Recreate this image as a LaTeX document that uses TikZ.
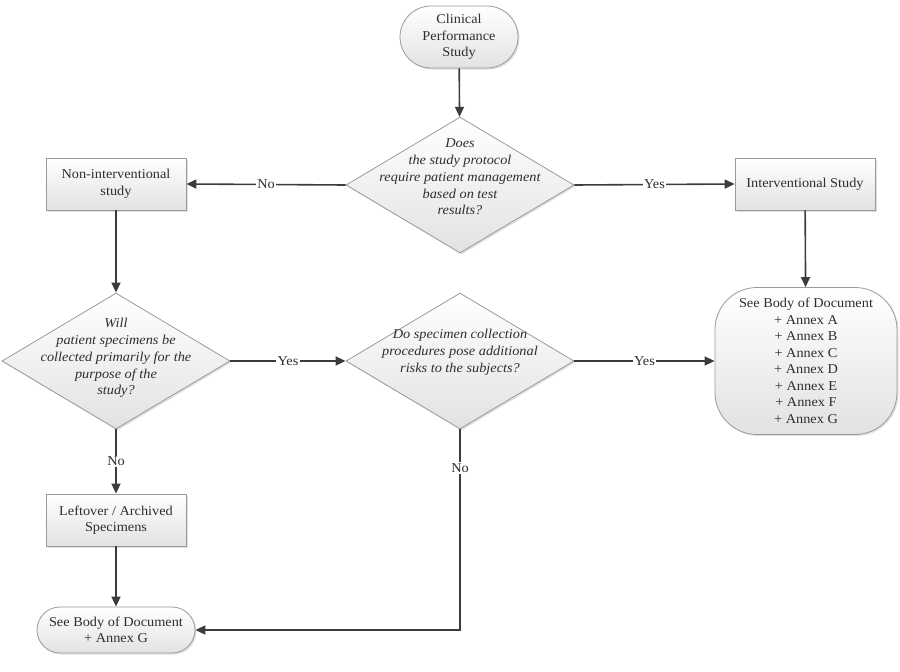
\documentclass[tikz,border=0pt]{standalone}
\usepackage{fontspec}
\setmainfont[FakeStretch=1.06]{Liberation Serif}
\usetikzlibrary{shapes.geometric,shapes.misc,arrows.meta,shadows}
\definecolor{bordergray}{HTML}{9A9A9A}
\definecolor{linegray}{HTML}{3C3C3C}
\definecolor{textgray}{HTML}{2E2E2E}
\definecolor{fillbot}{HTML}{E2E2E2}
\begin{document}
\begin{tikzpicture}[x=1pt,y=-1pt,
  base/.style={draw=bordergray, line width=0.8pt, top color=white, bottom color=fillbot,
    text=textgray, font=\fontsize{13.5}{16.5}\selectfont, align=center,
    drop shadow={opacity=0.25, shadow xshift=1.5pt, shadow yshift=-1.5pt}},
  term/.style={base, rounded rectangle, inner sep=2pt},
  procbox/.style={base, rectangle, minimum width=140pt, minimum height=52pt, inner sep=2pt},
  dia/.style={base, diamond, minimum width=228pt, minimum height=136pt, inner sep=0pt},
  dtext/.style={text=textgray, font=\fontsize{13.5}{16.8}\selectfont\itshape, align=center, inner sep=0pt},
  bigbox/.style={base, rectangle, rounded corners=42pt, minimum width=182pt, minimum height=147pt, inner sep=0pt},
  arr/.style={draw=linegray, line width=1.6pt, -{Triangle[length=10pt,width=9pt]}},
  lbl/.style={fill=white, text=textgray, inner sep=1.5pt, font=\fontsize{13.5}{15}\selectfont}
]
\useasboundingbox (0,0) rectangle (900,672);

\node[term, minimum width=122pt, minimum height=62pt] (start) at (459,37) {Clinical\\Performance\\Study};
\node[dia] (d1) at (460,185) {};
\node[dtext] (d1t) at (460,177) {Does\\the study protocol\\require patient management\\based on test\\results?};
\node[procbox] (noninv) at (116,184) {Non-interventional\\study};
\node[procbox] (inter) at (805,184) {Interventional Study};
\node[dia] (d2) at (116,361) {};
\node[dtext] (d2t) at (116,358) {Will\\patient specimens be\\collected primarily for the\\purpose of the\\study?};
\node[dia] (d3) at (460,361) {};
\node[dtext] (d3t) at (460,352) {Do specimen collection\\procedures pose additional\\risks to the subjects?};
\node[bigbox] (annex) at (806,361) {See Body of Document\\+ Annex A\\+ Annex B\\+ Annex C\\+ Annex D\\+ Annex E\\+ Annex F\\+ Annex G};
\node[procbox] (leftover) at (116,520) {Leftover / Archived\\Specimens};
\node[term, minimum width=162pt, minimum height=46pt] (final) at (116,630) {See Body of Document\\+ Annex G};

\draw[arr] (start) -- (d1);
\draw[arr] (d1.west) -- node[lbl] {No} (noninv.east);
\draw[arr] (d1.east) -- node[lbl] {Yes} (inter.west);
\draw[arr] (noninv) -- (d2);
\draw[arr] (inter) -- (annex);
\draw[arr] (d2.east) -- node[lbl] {Yes} (d3.west);
\draw[arr] (d3.east) -- node[lbl] {Yes} (annex.west);
\draw[arr] (d2.south) -- node[lbl] {No} (leftover.north);
\draw[arr] (leftover) -- (final);
\draw[arr] (d3.south) |- node[lbl, pos=0.097] {No} (final.east);
\end{tikzpicture}
\end{document}
